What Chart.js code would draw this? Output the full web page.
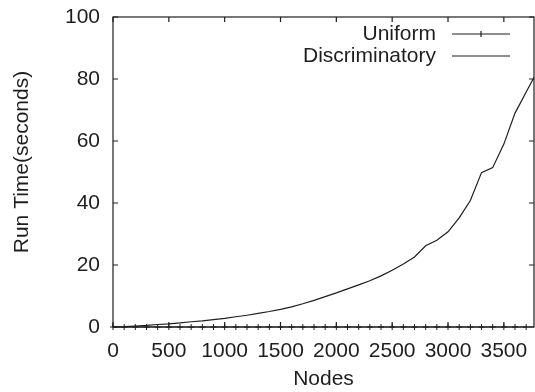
<!DOCTYPE html>
<html>
<head>
<meta charset="utf-8">
<title>Run time vs nodes</title>
<script src="https://cdn.jsdelivr.net/npm/chart.js@4.4.1/dist/chart.umd.min.js"></script>
<style>
  html, body { margin: 0; padding: 0; background: #fff; }
  #wrap { width: 535px; height: 392px; }
</style>
</head>
<body>
<div id="wrap"><canvas id="runtime"></canvas></div>
<script>
// node counts sampled every 100
const nodes = [0, 100, 200, 300, 400, 500, 600, 700, 800, 900,
    1000, 1100, 1200, 1300, 1400, 1500, 1600, 1700, 1800, 1900,
    2000, 2100, 2200, 2300, 2400, 2500, 2600, 2700, 2800, 2900,
    3000, 3100, 3200, 3300, 3400, 3500, 3600, 3700, 3800];

// run time in seconds
const uniformTimes = [0, 0, 0, 0, 0, 0, 0, 0, 0, 0,
    0, 0, 0, 0, 0, 0, 0, 0, 0, 0,
    0, 0, 0, 0, 0, 0, 0, 0, 0, 0,
    0, 0, 0, 0, 0, 0, 0, 0];
const discriminatoryTimes = [0, 0.1, 0.3, 0.5, 0.8, 1.0, 1.3, 1.7, 2.0, 2.4,
    2.8, 3.3, 3.8, 4.4, 5.0, 5.7, 6.5, 7.5, 8.6, 9.8,
    11.0, 12.3, 13.6, 14.9, 16.5, 18.3, 20.3, 22.6, 26.2, 28.0,
    30.7, 35.2, 40.8, 49.8, 51.4, 59.0, 69.0, 75.8, 82.5];

const xTicks = [0, 500, 1000, 1500, 2000, 2500, 3000, 3500];
const yTicks = [0, 20, 40, 60, 80, 100];

const INK = "#1e1e1e";
const FONT = "'Liberation Sans', Arial, sans-serif";

function toPoints(values) {
    return values.map(function (v, i) { return { x: nodes[i], y: v }; });
}

// gnuplot-like frame: full border with inward ticks on every side,
// key in the top right corner and a rotated y label
const framePlugin = {
    id: "frame",
    afterDraw(chart) {
        const ctx = chart.ctx;
        const a = chart.chartArea;
        const xs = chart.scales.x;
        const ys = chart.scales.y;
        const len = 5;

        ctx.save();
        ctx.strokeStyle = INK;
        ctx.lineWidth = 1.2;
        ctx.strokeRect(a.left, a.top, a.right - a.left, a.bottom - a.top);

        ctx.beginPath();
        xs.ticks.forEach(function (t) {
            const px = xs.getPixelForValue(t.value);
            ctx.moveTo(px, a.bottom); ctx.lineTo(px, a.bottom - len);
            ctx.moveTo(px, a.top); ctx.lineTo(px, a.top + len);
        });
        ys.ticks.forEach(function (t) {
            const py = ys.getPixelForValue(t.value);
            ctx.moveTo(a.left, py); ctx.lineTo(a.left + len, py);
            ctx.moveTo(a.right, py); ctx.lineTo(a.right - len, py);
        });
        ctx.stroke();

        // key
        ctx.font = "21px " + FONT;
        ctx.fillStyle = INK;
        ctx.textAlign = "right";
        ctx.textBaseline = "middle";
        chart.data.datasets.forEach(function (ds, i) {
            const rowY = a.top + 17 + i * 22;
            const textX = a.right - 98;
            const x0 = a.right - 82, x1 = a.right - 24;
            ctx.fillText(ds.label, textX, rowY);
            ctx.strokeStyle = ds.borderColor;
            ctx.lineWidth = ds.borderWidth;
            ctx.beginPath();
            ctx.moveTo(x0, rowY); ctx.lineTo(x1, rowY);
            if (ds.pointRadius > 0) {
                const mx = (x0 + x1) / 2, r = ds.pointRadius;
                ctx.moveTo(mx - r, rowY); ctx.lineTo(mx + r, rowY);
                ctx.moveTo(mx, rowY - r); ctx.lineTo(mx, rowY + r);
            }
            ctx.stroke();
        });

        // y axis label
        ctx.translate(22, (a.top + a.bottom) / 2 - 10);
        ctx.rotate(-Math.PI / 2);
        ctx.textAlign = "center";
        ctx.fillText("Run Time(seconds)", 0, 0);
        ctx.restore();
    }
};

Chart.defaults.font.family = FONT;
Chart.defaults.font.size = 21;
Chart.defaults.color = INK;

new Chart(document.getElementById("runtime"), {
    type: "line",
    data: {
        datasets: [{
            label: "Uniform",
            data: toPoints(uniformTimes),
            borderColor: INK,
            borderWidth: 1.2,
            pointStyle: "cross",
            pointRadius: 3,
            pointBorderColor: INK,
            pointBorderWidth: 1,
            tension: 0,
            clip: { left: 5, top: 5, right: 0, bottom: 5 }
        }, {
            label: "Discriminatory",
            data: toPoints(discriminatoryTimes),
            borderColor: INK,
            borderWidth: 1.2,
            pointRadius: 0,
            tension: 0,
            clip: { left: 0, top: 0, right: 0, bottom: 2 }
        }]
    },
    options: {
        responsive: true,
        maintainAspectRatio: false,
        animation: false,
        layout: {
            autoPadding: false,
            padding: { top: 17, right: 1, left: 0, bottom: 0 }
        },
        plugins: {
            legend: { display: false },
            tooltip: { enabled: false }
        },
        scales: {
            x: {
                type: "linear",
                min: 0,
                max: 3770,
                grid: { display: false, drawTicks: false },
                border: { display: false },
                ticks: {
                    padding: 12,
                    maxRotation: 0,
                    callback: function (v) { return String(v); }
                },
                afterBuildTicks: function (scale) {
                    scale.ticks = xTicks.map(function (v) { return { value: v }; });
                },
                afterFit: function (scale) {
                    scale.height = 65;
                    scale.paddingLeft = 0;
                    scale.paddingRight = 0;
                },
                title: { display: true, text: "Nodes", padding: { top: 0, bottom: 0 } }
            },
            y: {
                min: 0,
                max: 100,
                grid: { display: false, drawTicks: false },
                border: { display: false },
                ticks: { padding: 13 },
                afterBuildTicks: function (scale) {
                    scale.ticks = yTicks.map(function (v) { return { value: v }; });
                },
                afterFit: function (scale) {
                    scale.width = 113;
                    scale.paddingTop = 0;
                    scale.paddingBottom = 0;
                }
            }
        }
    },
    plugins: [framePlugin]
});
</script>
</body>
</html>
